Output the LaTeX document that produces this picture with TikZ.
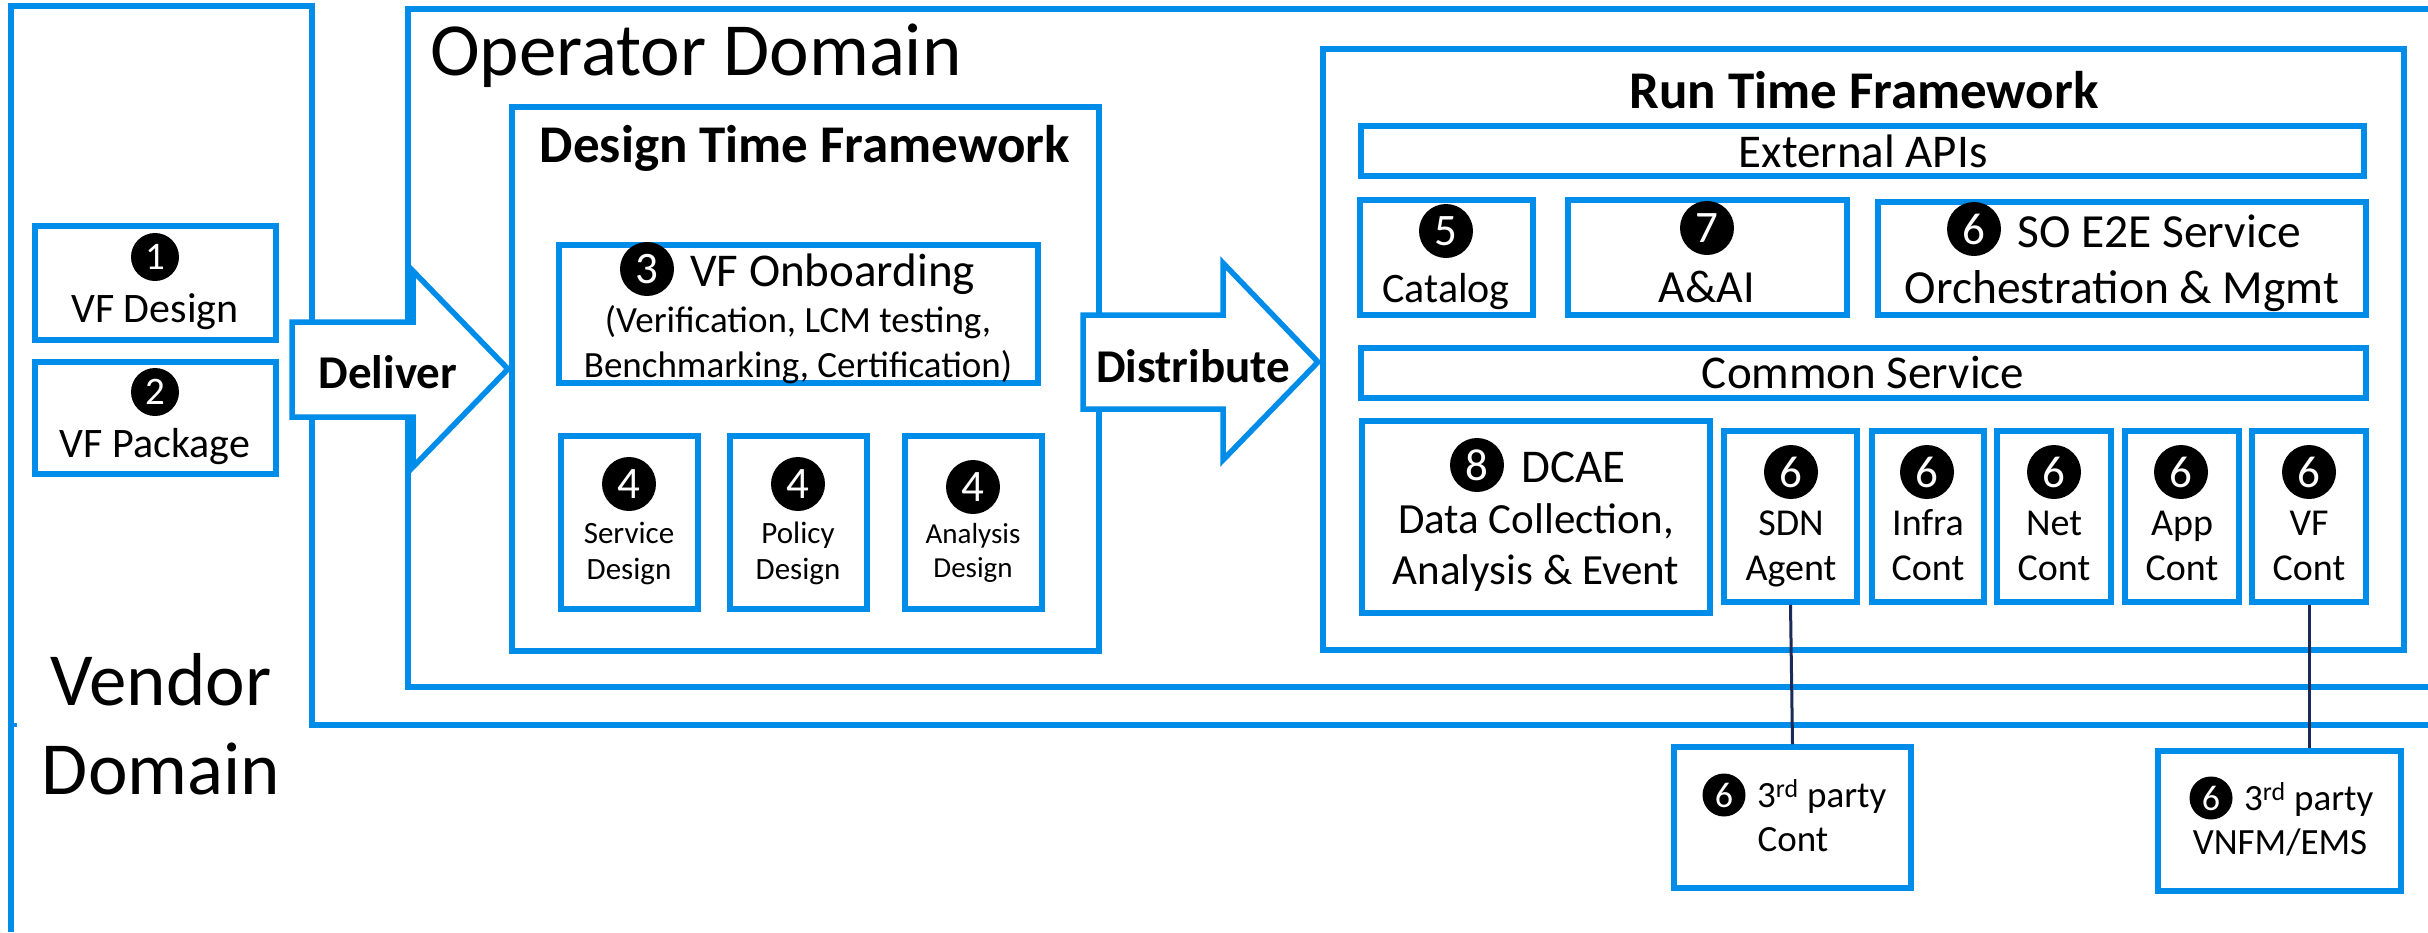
\documentclass[tikz,border=0pt]{standalone}
\usepackage{fontspec}
\setmainfont{Carlito}
\usetikzlibrary{fit}
\definecolor{bl}{RGB}{0,141,234}
\definecolor{navy}{RGB}{28,42,88}
\newcommand{\fsz}[1]{\fontsize{#1}{#1}\selectfont}
\begin{document}
\begin{tikzpicture}[x=1pt,y=-1pt,
  box/.style={draw=bl, line width=5.5pt, inner sep=0pt, rectangle},
  frame/.style={draw=bl, line width=5.5pt, line join=miter},
  arrowbox/.style={draw=bl, line width=5.5pt, fill=white, line join=miter},
  num/.style={circle, fill=black, text=white, inner sep=0pt, minimum size=54pt, font=\fsz{45}},
  smallnum/.style={num, minimum size=48pt, font=\fsz{39}},
  tinynum/.style={num, minimum size=43pt, font=\fsz{36}},
  txt/.style={inner sep=0pt, text=black},
  conn/.style={draw=navy, line width=3pt}
]
\useasboundingbox (0,0) rectangle (2428,932);

% Vendor domain outline
\draw[frame] (11,932) -- (11,6) -- (312,6) -- (312,725) -- (2430,725);
\draw[bl, line width=3.5pt] (8,725) -- (17,725);
% Operator domain outline
\draw[frame] (2430,9) -- (408,9) -- (408,687) -- (2430,687);

\node[txt, font=\fsz{75}, anchor=base west] (optitle) at (430,75) {Operator Domain};
\node[txt, font=\fsz{75}, anchor=base] (vd1) at (161,705) {Vendor};
\node[txt, font=\fsz{75}, anchor=base] (vd2) at (161,794) {Domain};

% Vendor boxes
\node[box, fit={(35,226) (276,340)}] (vfd) {};
\node[smallnum] (n1) at (155,257) {1};
\node[txt, font=\fsz{42}, anchor=base] (vfdt) at (155,322) {VF Design};
\node[box, fit={(35,362) (276,474)}] (vfp) {};
\node[smallnum] (n2) at (155,392) {2};
\node[txt, font=\fsz{42}, anchor=base] (vfpt) at (155,457) {VF Package};

% Deliver arrow
\draw[arrowbox] (292,322) -- (413,322) -- (413,271) -- (508,369) -- (413,467) -- (413,417) -- (292,417) -- cycle;
\node[txt, font=\bfseries\fsz{47}, anchor=base] (deliver) at (388,388) {Deliver};

% Design time framework
\node[box, fit={(512,107) (1099,651)}] (dtf) {};
\node[txt, font=\bfseries\fsz{53}, anchor=base] (dtft) at (805,162) {Design Time Framework};
\node[box, fit={(559,245) (1038,383)}] (onb) {};
\node[num] (n3) at (647,269) {3};
\node[txt, font=\fsz{47}, anchor=base west] (onbt) at (690,286) {VF Onboarding};
\node[txt, font=\fsz{37}, anchor=base] (onb2) at (798,332) {(Verification, LCM testing,};
\node[txt, font=\fsz{37}, anchor=base] (onb3) at (798,377) {Benchmarking, Certification)};

\node[box, fit={(561,436) (698,609)}] (sd) {};
\node[num] (n4a) at (629,484) {4};
\node[txt, font=\fsz{31}, anchor=base] (sd1) at (629,543) {Service};
\node[txt, font=\fsz{31}, anchor=base] (sd2) at (629,579) {Design};
\node[box, fit={(730,436) (867,609)}] (pd) {};
\node[num] (n4b) at (798,484) {4};
\node[txt, font=\fsz{31}, anchor=base] (pd1) at (798,543) {Policy};
\node[txt, font=\fsz{31}, anchor=base] (pd2) at (798,579) {Design};
\node[box, fit={(905,436) (1042,609)}] (ad) {};
\node[num] (n4c) at (973,487) {4};
\node[txt, font=\fsz{29}, anchor=base] (ad1) at (973,543) {Analysis};
\node[txt, font=\fsz{29}, anchor=base] (ad2) at (973,577) {Design};

% Distribute arrow
\draw[arrowbox] (1083,315) -- (1223,315) -- (1223,263) -- (1318,362) -- (1223,460) -- (1223,409) -- (1083,409) -- cycle;
\node[txt, font=\bfseries\fsz{47}, anchor=base] (distr) at (1193,382) {Distribute};

% Run time framework
\node[box, fit={(1323,49) (2404,650)}] (rtf) {};
\node[txt, font=\bfseries\fsz{53}, anchor=base] (rtft) at (1864,108) {Run Time Framework};
\node[box, fit={(1361,126) (2364,176)}] (ext) {};
\node[txt, font=\fsz{47}, anchor=base] (extt) at (1863,167) {External APIs};

\node[box, fit={(1360,200) (1533,315)}] (cat) {};
\node[num] (n5) at (1446,231) {5};
\node[txt, font=\fsz{42}, anchor=base] (catt) at (1446,302) {Catalog};
\node[box, fit={(1568,200) (1847,315)}] (aai) {};
\node[num] (n7) at (1707,228) {7};
\node[txt, font=\fsz{46}, anchor=base] (aait) at (1707,302) {A\&AI};
\node[box, fit={(1878,202) (2366,315)}] (so) {};
\node[num] (n6so) at (1974,229) {6};
\node[txt, font=\fsz{47.5}, anchor=base west] (so1) at (2017,247) {SO E2E Service};
\node[txt, font=\fsz{47.5}, anchor=base] (so2) at (2122,303) {Orchestration \& Mgmt};

\node[box, fit={(1361,348) (2366,398)}] (com) {};
\node[txt, font=\fsz{47}, anchor=base] (comt) at (1863,388) {Common Service};

\node[box, fit={(1362,421) (1710,613)}] (dcae) {};
\node[num] (n8) at (1477,465) {8};
\node[txt, font=\fsz{47}, anchor=base west] (dcae1) at (1521,482) {DCAE};
\node[txt, font=\fsz{43}, anchor=base] (dcae2) at (1536,533) {Data Collection,};
\node[txt, font=\fsz{43}, anchor=base] (dcae3) at (1536,584) {Analysis \& Event};

\node[box, fit={(1724,431) (1857,602)}] (sdn) {};
\node[num] (n6a) at (1791,472) {6};
\node[txt, font=\fsz{38}, anchor=base] (sdn1) at (1791,535) {SDN};
\node[txt, font=\fsz{38}, anchor=base] (sdn2) at (1791,580) {Agent};
\node[box, fit={(1872,431) (1984,602)}] (infra) {};
\node[num] (n6b) at (1927,472) {6};
\node[txt, font=\fsz{38}, anchor=base] (infra1) at (1928,535) {Infra};
\node[txt, font=\fsz{38}, anchor=base] (infra2) at (1928,580) {Cont};
\node[box, fit={(1997,431) (2111,602)}] (net) {};
\node[num] (n6c) at (2054,472) {6};
\node[txt, font=\fsz{38}, anchor=base] (net1) at (2054,535) {Net};
\node[txt, font=\fsz{38}, anchor=base] (net2) at (2054,580) {Cont};
\node[box, fit={(2125,431) (2239,602)}] (app) {};
\node[num] (n6d) at (2181,472) {6};
\node[txt, font=\fsz{38}, anchor=base] (app1) at (2182,535) {App};
\node[txt, font=\fsz{38}, anchor=base] (app2) at (2182,580) {Cont};
\node[box, fit={(2252,431) (2366,602)}] (vfc) {};
\node[num] (n6e) at (2309,472) {6};
\node[txt, font=\fsz{38}, anchor=base] (vfc1) at (2309,535) {VF};
\node[txt, font=\fsz{38}, anchor=base] (vfc2) at (2309,580) {Cont};

% Third party boxes
\node[box, fit={(1674,747) (1911,888)}] (tpc) {};
\node[tinynum] (n6f) at (1724,795) {6};
\node[txt, font=\fsz{37}, anchor=base west] (tpc1) at (1757,807) {3\textsuperscript{rd} party};
\node[txt, font=\fsz{37}, anchor=base] (tpc2) at (1793,851) {Cont};
\node[box, fit={(2158,751) (2401,891)}] (vnfm) {};
\node[tinynum] (n6g) at (2211,798) {6};
\node[txt, font=\fsz{37}, anchor=base west] (vnfm1) at (2244,810) {3\textsuperscript{rd} party};
\node[txt, font=\fsz{37}, anchor=base] (vnfm2) at (2280,854) {VNFM/EMS};

% Connectors
\draw[conn] (sdn.south) -- (tpc.north);
\draw[conn] (vfc.south) -- (vfc.south |- vnfm.north);
\end{tikzpicture}
\end{document}
